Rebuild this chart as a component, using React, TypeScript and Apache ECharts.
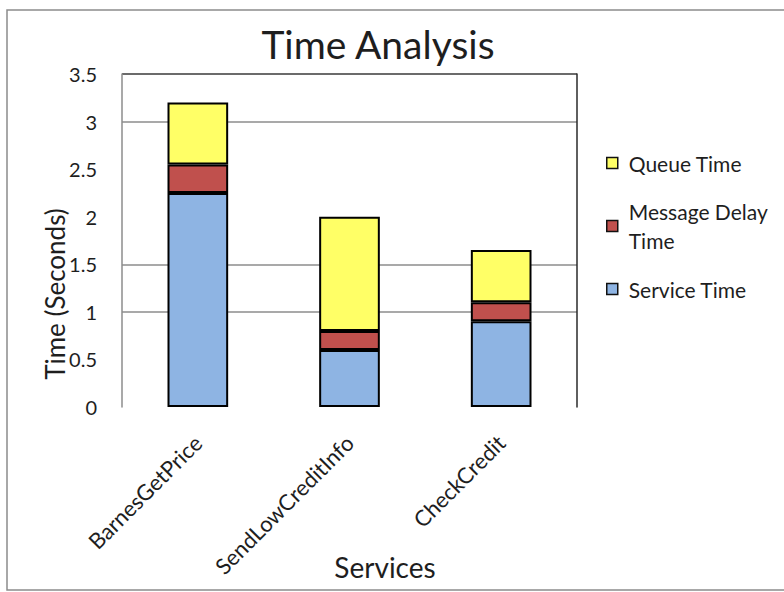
import React, { useEffect, useRef } from 'react';
import * as echarts from 'echarts';

// Services measured and the time components (seconds) stacked for each one
const services = ['BarnesGetPrice', 'SendLowCreditInfo', 'CheckCredit'];
const serviceTime = [2.25, 0.6, 0.9];
const messageDelayTime = [0.3, 0.2, 0.2];
const queueTime = [0.65, 1.2, 0.55];

// Value axis range
const yMin = 0;
const yMax = 3.5;
const yStep = 0.5;

const FONT = 'Lato, "Open Sans", sans-serif';
const TEXT = '#1e1e1e';
const GRID_GRAY = '#8c8c8c';

export default function App() {
  const ref = useRef<HTMLDivElement>(null);

  useEffect(() => {
    if (!ref.current) return;
    const chart = echarts.init(ref.current, null, { renderer: 'svg' });

    const barStyle = (color: string) => ({
      color,
      borderColor: '#000',
      borderWidth: 2,
    });

    // gridlines: only 1, 1.5, 3 drawn, with 3.5 forming the dark top border
    const splitColors = [
      'rgba(0,0,0,0)', 'rgba(0,0,0,0)', GRID_GRAY, GRID_GRAY,
      'rgba(0,0,0,0)', 'rgba(0,0,0,0)', GRID_GRAY, '#3a3a3a',
    ];

    chart.setOption({
      animation: false,
      backgroundColor: '#ffffff',
      textStyle: { fontFamily: FONT },
      grid: {
        left: 122,
        right: 207,
        top: 74,
        bottom: 185,
        containLabel: false,
        outerBoundsMode: 'none',
      },
      xAxis: {
        type: 'category',
        data: services,
        axisLine: { show: false },
        axisTick: { show: false },
        axisLabel: {
          rotate: 45,
          margin: 32,
          fontFamily: FONT,
          fontSize: 22,
          color: TEXT,
          interval: 0,
        },
      },
      yAxis: [
        {
          type: 'value',
          min: yMin,
          max: yMax,
          interval: yStep,
          axisLine: { show: true, lineStyle: { color: GRID_GRAY, width: 1.5 } },
          axisTick: { show: false },
          axisLabel: { fontFamily: FONT, fontSize: 20, color: TEXT, margin: 25 },
          splitLine: { show: true, lineStyle: { color: splitColors, width: 1.5 } },
        },
        {
          type: 'value',
          position: 'right',
          min: yMin,
          max: yMax,
          interval: yStep,
          axisLine: { show: true, lineStyle: { color: '#2a2a2a', width: 1.5 } },
          axisTick: { show: false },
          axisLabel: { show: false },
          splitLine: { show: false },
        },
      ],
      legend: {
        orient: 'vertical',
        left: 606,
        top: 150,
        padding: 0,
        itemGap: 6.5,
        itemWidth: 11,
        itemHeight: 11,
        icon: 'rect',
        selectedMode: false,
        itemStyle: { borderColor: '#111', borderWidth: 1.5 },
        textStyle: {
          fontFamily: FONT,
          fontSize: 21,
          color: TEXT,
          lineHeight: 26,
          padding: [0, 0, 0, 6],
        },
        formatter: (name: string) =>
          name === 'Message Delay Time' ? 'Message Delay\nTime' : name,
        data: [
          { name: 'Queue Time' },
          {
            name: 'Message Delay Time',
            textStyle: { lineHeight: 29, padding: [29, 0, 0, 6] },
          },
          { name: 'Service Time' },
        ],
      },
      graphic: [
        {
          type: 'rect',
          z: -10,
          silent: true,
          shape: { x: 7, y: 10, width: 800, height: 580 },
          style: { fill: 'none', stroke: '#8c8c8c', lineWidth: 1.5 },
        },
        {
          type: 'text',
          x: 378,
          y: 44,
          style: {
            text: 'Time Analysis',
            font: `39px ${FONT}`,
            fill: TEXT,
            align: 'center',
            verticalAlign: 'middle',
          },
        },
        {
          type: 'text',
          x: 55,
          y: 294,
          rotation: Math.PI / 2,
          style: {
            text: 'Time (Seconds)',
            font: `26px ${FONT}`,
            fill: TEXT,
            align: 'center',
            verticalAlign: 'middle',
          },
        },
        {
          type: 'text',
          x: 385,
          y: 567,
          style: {
            text: 'Services',
            font: `28px ${FONT}`,
            fill: TEXT,
            align: 'center',
            verticalAlign: 'middle',
          },
        },
      ],
      series: [
        {
          name: 'Service Time',
          type: 'bar',
          stack: 'time',
          barWidth: '40%',
          data: serviceTime,
          itemStyle: barStyle('#8EB4E3'),
        },
        {
          name: 'Message Delay Time',
          type: 'bar',
          stack: 'time',
          barWidth: '40%',
          data: messageDelayTime,
          itemStyle: barStyle('#C0504D'),
        },
        {
          name: 'Queue Time',
          type: 'bar',
          stack: 'time',
          barWidth: '40%',
          data: queueTime,
          itemStyle: barStyle('#FFFF66'),
        },
      ],
    });

    return () => chart.dispose();
  }, []);

  return (
    <div
      style={{ position: 'absolute', left: 0, top: 0, width: 784, height: 592, background: '#fff' }}
    >
      <div ref={ref} style={{ width: 784, height: 592 }} />
    </div>
  );
}
